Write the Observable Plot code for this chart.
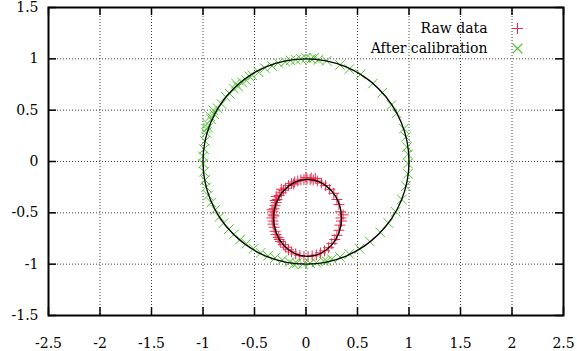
<!DOCTYPE html>
<html>
<head>
<meta charset="utf-8">
<script src="https://cdn.jsdelivr.net/npm/d3@7"></script>
<script src="https://cdn.jsdelivr.net/npm/@observablehq/plot@0.6"></script>
<style>
  html, body { margin: 0; padding: 0; background: #fff; }
  svg { display: block; }
</style>
</head>
<body>
<div id="chart"></div>
<script>
const xTicks = [-2.5, -2, -1.5, -1, -0.5, 0, 0.5, 1, 1.5, 2, 2.5];
const yTicks = [-1.5, -1, -0.5, 0, 0.5, 1, 1.5];
const xGrid = [-2, -1.5, -1, -0.5, 0, 0.5, 1, 1.5, 2];
const yGrid = [-1, -0.5, 0, 0.5, 1];
const seriesNames = ["Raw data", "After calibration"];

const rawData = [
  [0.34,-0.55],[0.335,-0.49],[0.32,-0.42],[0.30,-0.37],[0.27,-0.31],[0.23,-0.27],[0.19,-0.235],[0.15,-0.21],
  [0.11,-0.19],[0.07,-0.18],[0.04,-0.175],[0.01,-0.17],[-0.02,-0.175],[-0.05,-0.18],[-0.08,-0.19],[-0.11,-0.2],
  [-0.14,-0.215],[-0.17,-0.235],[-0.2,-0.26],[-0.22,-0.28],[-0.24,-0.305],[-0.26,-0.33],[-0.28,-0.37],[-0.29,-0.4],
  [-0.30,-0.43],[-0.31,-0.46],[-0.32,-0.49],[-0.32,-0.52],[-0.33,-0.55],[-0.32,-0.58],[-0.32,-0.61],[-0.31,-0.64],
  [-0.30,-0.68],[-0.29,-0.71],[-0.27,-0.74],[-0.25,-0.78],[-0.22,-0.81],[-0.2,-0.835],[-0.17,-0.86],[-0.14,-0.88],
  [-0.1,-0.9],[-0.06,-0.915],[-0.02,-0.925],[0.02,-0.925],[0.06,-0.92],[0.1,-0.91],[0.14,-0.89],[0.18,-0.87],
  [0.22,-0.84],[0.25,-0.8],[0.28,-0.76],[0.3,-0.72],[0.32,-0.67],[0.33,-0.62],[0.345,-0.58],
  [-0.3,-0.38],[-0.33,-0.47],[-0.31,-0.53],[-0.26,-0.76],[0.0,-0.155],[0.05,-0.16],[-0.24,-0.27],[0.36,-0.52],
  [-0.29,-0.34],[-0.12,-0.22],[0.09,-0.165]
];

const calibrated = [
  [0.99,-0.02],[0.99,0.07],[0.98,0.14],[0.97,0.24],[0.95,0.32],[0.88,0.47],[0.83,0.55],[0.74,0.67],[0.65,0.76],
  [0.53,0.85],[0.42,0.9],[0.33,0.94],[0.2,0.98],[0.12,0.99],[0.05,1.0],[0.0,1.01],[-0.05,1.0],[-0.1,0.99],
  [-0.15,0.985],[-0.2,0.97],[-0.27,0.96],[-0.33,0.93],[-0.4,0.91],[-0.46,0.87],[-0.52,0.84],[-0.58,0.79],
  [-0.62,0.77],[-0.66,0.73],[-0.7,0.71],[-0.74,0.66],[-0.78,0.63],[-0.82,0.56],[-0.86,0.52],[-0.89,0.46],
  [-0.92,0.41],[-0.95,0.33],[-0.96,0.37],[-0.97,0.28],[-0.98,0.2],[-0.99,0.12],[-1.0,0.05],[-1.0,-0.02],
  [-0.99,-0.1],[-0.98,-0.18],[-0.97,-0.25],[-0.95,-0.33],[-0.92,-0.4],[-0.88,-0.47],[-0.84,-0.54],[-0.8,-0.6],
  [-0.75,-0.66],[-0.7,-0.71],[-0.64,-0.76],[-0.58,-0.8],[-0.51,-0.85],[-0.44,-0.89],[-0.37,-0.92],[-0.3,-0.94],
  [-0.23,-0.96],[-0.16,-0.98],[-0.09,-0.99],[-0.03,-1.0],[0.04,-0.99],[0.1,-0.985],[0.17,-0.97],[0.25,-0.95],
  [0.33,-0.93],[0.42,-0.9],[0.52,-0.85],[0.62,-0.78],[0.72,-0.69],[0.8,-0.6],[0.87,-0.49],[0.93,-0.37],
  [0.97,-0.24],[0.99,-0.12],[-0.93,0.44],[-0.9,0.5],[-0.97,0.32],[-0.68,0.76],[-0.55,0.83],[0.08,1.01],[-0.12,-1.0],[0.2,-0.97]
];

const fitRaw = [
  [0.345,-0.55],[0.32,-0.4065],[0.248,-0.285],[0.141,-0.204],[0.015,-0.175],[-0.111,-0.204],[-0.218,-0.285],[-0.29,-0.4065],
  [-0.315,-0.55],[-0.29,-0.6935],[-0.218,-0.815],[-0.111,-0.896],[0.015,-0.925],[0.141,-0.896],[0.248,-0.815],[0.32,-0.6935]
];
const fitCal = [
  [1,0],[0.924,0.383],[0.707,0.707],[0.383,0.924],[0,1],[-0.383,0.924],[-0.707,0.707],[-0.924,0.383],
  [-1,0],[-0.924,-0.383],[-0.707,-0.707],[-0.383,-0.924],[0,-1],[0.383,-0.924],[0.707,-0.707],[0.924,-0.383]
];

const RED = "#ee2a4c";
const GREEN = "#4cc42c";
const FONT = "DejaVu Serif";
const fmt = d => String(d);

const chart = Plot.plot({
  width: 577,
  height: 351,
  marginLeft: 48,
  marginRight: 14,
  marginTop: 7,
  marginBottom: 36,
  style: "font-family: 'DejaVu Serif', serif; font-size: 14px; background: #fff; color: #000;",
  x: { domain: [-2.5, 2.5] },
  y: { domain: [-1.5, 1.5] },
  marks: [
    Plot.gridX(xGrid, { stroke: "#000", strokeOpacity: 0.75, strokeDasharray: "1,2" }),
    Plot.gridY(yGrid, { stroke: "#000", strokeOpacity: 0.75, strokeDasharray: "1,2" }),
    Plot.ruleX(xTicks, { x: d => d, insetTop: 300, stroke: "#000", strokeWidth: 1.5 }),
    Plot.ruleX(xTicks, { x: d => d, insetBottom: 300, stroke: "#000", strokeWidth: 1.5 }),
    Plot.ruleY(yTicks, { y: d => d, insetRight: 507, stroke: "#000", strokeWidth: 1.5 }),
    Plot.ruleY(yTicks, { y: d => d, insetLeft: 507, stroke: "#000", strokeWidth: 1.5 }),
    Plot.axisX(xTicks, { anchor: "bottom", tickSize: 0, tickPadding: 23, tickFormat: fmt, fontSize: 14, fontFamily: FONT }),
    Plot.axisY(yTicks, { anchor: "left", tickSize: 0, tickPadding: 10, tickFormat: fmt, fontSize: 14, fontFamily: FONT }),
    Plot.dot(rawData, { x: d => d[0], y: d => d[1], symbol: "plus", r: 3.6, stroke: RED, strokeWidth: 1 }),
    Plot.dot(calibrated, { x: d => d[0], y: d => d[1], symbol: "times", r: 4.4, stroke: GREEN, strokeWidth: 1 }),
    Plot.line(fitRaw, { x: d => d[0], y: d => d[1], curve: "catmull-rom-closed", stroke: "#000", strokeWidth: 1.3 }),
    Plot.line(fitCal, { x: d => d[0], y: d => d[1], curve: "catmull-rom-closed", stroke: "#000", strokeWidth: 1.3 }),
    Plot.frame({ stroke: "#000", strokeWidth: 2 }),
    Plot.text([seriesNames[0]], { text: d => d, frameAnchor: "top-right", dx: -76, dy: 21, textAnchor: "end", lineAnchor: "middle", fontSize: 14, fontFamily: FONT }),
    Plot.text([seriesNames[1]], { text: d => d, frameAnchor: "top-right", dx: -76, dy: 41, textAnchor: "end", lineAnchor: "middle", fontSize: 14, fontFamily: FONT }),
    Plot.dot([seriesNames[0]], { frameAnchor: "top-right", dx: -46, dy: 21, symbol: "plus", r: 3.6, stroke: RED, strokeWidth: 1.1 }),
    Plot.dot([seriesNames[1]], { frameAnchor: "top-right", dx: -46, dy: 41, symbol: "times", r: 4.4, stroke: GREEN, strokeWidth: 1.1 })
  ]
});
document.getElementById("chart").appendChild(chart);
</script>
</body>
</html>
